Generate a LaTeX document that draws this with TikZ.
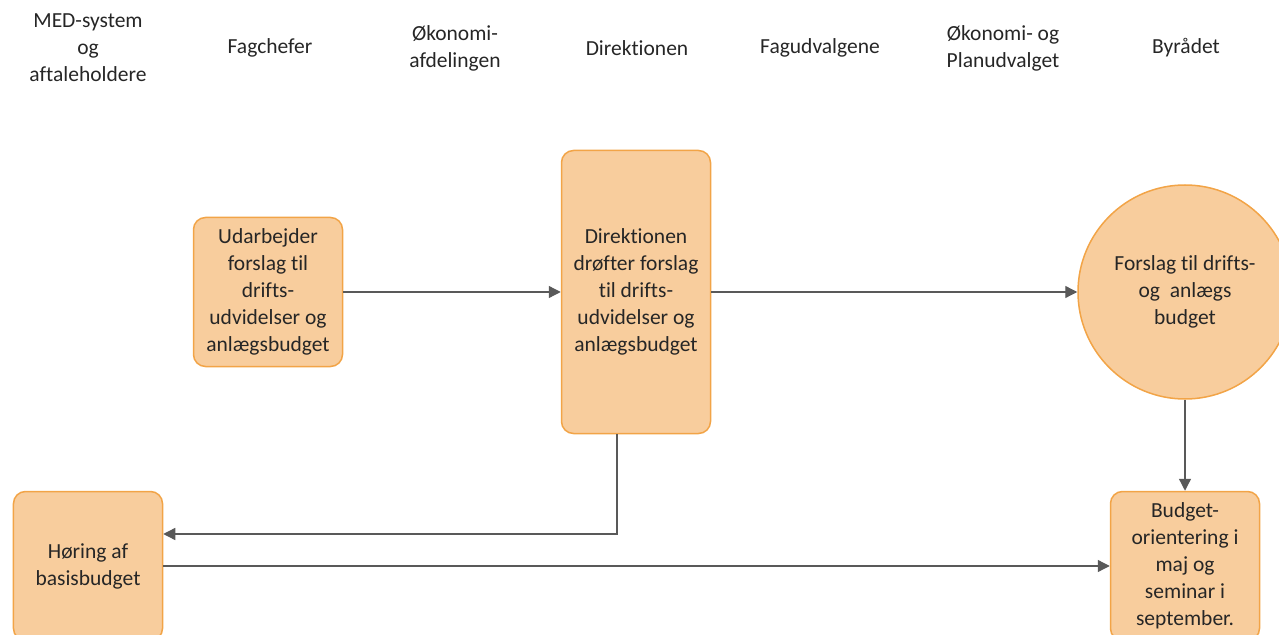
\documentclass[tikz,border=0pt]{standalone}
\usepackage{fontspec}
\setmainfont{Carlito}[Ligatures=NoCommon]
\usetikzlibrary{shapes,arrows.meta,calc,positioning}
\definecolor{boxfill}{HTML}{F8CD9D}
\definecolor{boxline}{HTML}{F2A447}
\definecolor{linegray}{HTML}{595959}
\definecolor{txtgray}{HTML}{262626}
\begin{document}
\begin{tikzpicture}[x=1bp,y=-1bp,
font=\fontsize{21.5bp}{27bp}\selectfont,
head/.style={text=txtgray,align=center,inner sep=0pt},
task/.style={draw=boxline,fill=boxfill,line width=1.5bp,rounded corners=12bp,minimum width=149bp,minimum height=149bp,align=center,text=txtgray,inner sep=1bp},
flow/.style={draw=linegray,line width=1.3bp,-{Triangle[length=12bp,width=12bp]}}]

        \useasboundingbox (0,0) rectangle (1279,635);
        \clip (0,0) rectangle (1279,635);

        % column headings
        \node [head] (med) at (88,48) {MED-system\\og\\aftaleholdere};
        \node [head] (fag) at (270,48) {Fagchefer};
        \node [head] (oek) at (455,48) {Økonomi-\\afdelingen};
        \node [head] (dir) at (637,48) {Direktionen};
        \node [head] (udv) at (820,48) {Fagudvalgene};
        \node [head] (pud) at (1003,48) {Økonomi- og\\Planudvalget};
        \node [head] (byr) at (1186,48) {Byrådet};

        % steps
        \node [task] (udar) at (268,292) {Udarbejder\\forslag til\\drifts-\\udvidelser og\\anlægsbudget};
        \node [task, minimum height=283bp] (direk) at (636,292) {Direktionen\\drøfter forslag\\til drifts-\\udvidelser og\\anlægsbudget};
        \node [task, circle, rounded corners=0pt, minimum size=214bp, inner sep=0pt] (forslag) at (1185,292) {Forslag til drifts-\\og~ anlægs\\budget};
        \node [task] (horing) at (88,566) {Høring af\\basisbudget};
        \node [task] (budget) at (1185,566) {Budget-\\orientering i\\maj og\\seminar i\\september.};

        \draw [flow] (udar) -- (direk);
        \draw [flow] (direk) -- (forslag);
        \draw [flow] (forslag) -- (budget);
        \draw [flow] ([xshift=-19bp]direk.south) |- ([yshift=32bp]horing.east);
        \draw [flow] (horing) -- (budget);
    \end{tikzpicture}
\end{document}
